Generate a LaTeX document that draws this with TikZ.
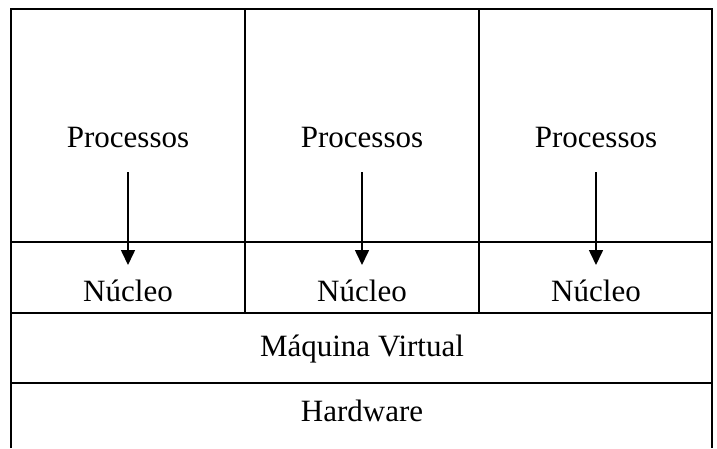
\documentclass[tikz,border=0pt]{standalone}
\usepackage{fontspec}
\setmainfont{Liberation Serif}
\usetikzlibrary{positioning,arrows.meta}

\begin{document}
\begin{tikzpicture}[x=1pt,y=-1pt,line width=2pt,
  label node/.style={font=\fontsize{31}{36}\selectfont,inner sep=0pt},
  down arrow/.style={-{Triangle[length=15pt,width=14pt]},line width=1.6pt}]
  \useasboundingbox (0,0) rectangle (717,448);

  % frame and rows
  \draw (11,448) -- (11,9) -- (712,9) -- (712,448);
  \draw (11,242) -- (712,242);
  \draw (11,313) -- (712,313);
  \draw (11,383) -- (712,383);
  \draw (245,9) -- (245,313);
  \draw (479,9) -- (479,313);

  \node[label node] (proc1) at (128,137) {Processos};
  \node[label node] (proc2) at (362,137) {Processos};
  \node[label node] (proc3) at (596,137) {Processos};
  \node[label node] (nuc1) at (128,291) {Núcleo};
  \node[label node] (nuc2) at (362,291) {Núcleo};
  \node[label node] (nuc3) at (596,291) {Núcleo};
  \node[label node] (vm) at (362,349) {Máquina Virtual};
  \node[label node] (hw) at (362,411) {Hardware};

  \path[down arrow,shorten <=35pt,shorten >=26pt]
    (proc1.center) edge (nuc1.center)
    (proc2.center) edge (nuc2.center)
    (proc3.center) edge (nuc3.center);
\end{tikzpicture}
\end{document}
